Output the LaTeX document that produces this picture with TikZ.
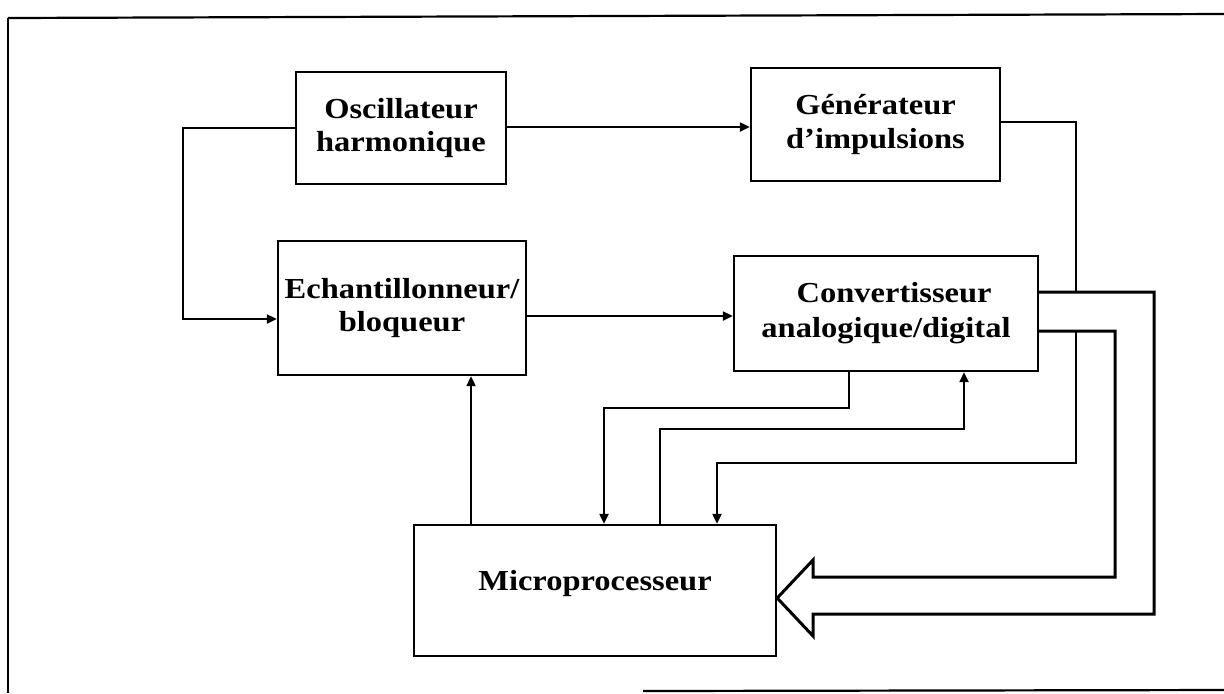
\documentclass[tikz,border=0pt]{standalone}
\usepackage{fontspec}
\setmainfont{Liberation Serif}[FakeStretch=1.12]
\usetikzlibrary{arrows.meta}
\begin{document}
\begin{tikzpicture}[x=0.5pt,y=-0.5pt,
  box/.style={draw,line width=1.2pt,inner sep=0pt,align=center,
    font=\fontsize{14.5}{16.75}\selectfont\bfseries},
  wire/.style={line width=1.1pt},
  arr/.style={wire,-{Triangle[length=5pt,width=4.5pt]}},
  frame/.style={line width=1.1pt},
  bus/.style={line width=1.5pt,line join=miter}]
\useasboundingbox (0,0) rectangle (1224,693);

% outer frame (partially visible)
\draw[frame] (8,18) -- (1224,14);
\draw[frame] (8,18) -- (8,693);
\draw[frame] (643,691) -- (1224,690);

% blocks
\node[box,minimum width=105pt,minimum height=56pt] (osc) at (401,128) {Oscillateur\\harmonique};
\node[box,minimum width=124pt,minimum height=67pt] (ech) at (402,308) {Echantillonneur/\\bloqueur};
\node[box,minimum width=124.5pt,minimum height=56.5pt] (gen) at (875.5,124.5) {Générateur\\d'impulsions};
\node[box,minimum width=152pt,minimum height=57.5pt] (conv) at (886,313.5) {\raisebox{3pt}{\begin{tabular}{@{}c@{}}\ \ Convertisseur\\[0.5pt]analogique/digital\end{tabular}}};
\node[box,minimum width=181pt,minimum height=65.5pt] (mp) at (595,590.5) {\raisebox{0pt}[0pt][0pt]{Microprocesseur}};

% oscillator -> sampler loop
\draw[arr] (osc.west) -- (183,128) |- (ech.west |- 0,319);
% oscillator -> pulse generator
\draw[arr] (osc.east |- 0,127) -- (gen.west |- 0,127);
% sampler -> converter
\draw[arr] (ech.east |- 0,316) -- (conv.west |- 0,316);
% pulse generator -> converter output line
\coordinate (jn) at (1076,292);
\draw[wire] (gen.east |- 0,122) -| (jn);
% wide bus arrow from converter to microprocessor
\draw[bus] (conv.east |- 0,331) -- (1115,331) -- (1115,577) -- (813,577) -- (813,560)
  -- (mp.east |- 0,598) -- (813,636) -- (813,614) -- (1154,614) -- (1154,292) -- (conv.east |- 0,292);
% converter -> microprocessor (via branch)
\draw[arr] (1076,331) -- (1076,463) -| (mp.north -| 717,0);
% converter bottom -> microprocessor
\draw[arr] (conv.south -| 849,0) |- (604,408) -- (mp.north -| 604,0);
% microprocessor -> converter
\draw[arr] (mp.north -| 660,0) |- (964,429) -- (conv.south -| 964,0);
% microprocessor -> sampler
\draw[arr] (mp.north -| 471,0) -- (ech.south -| 471,0);
\end{tikzpicture}
\end{document}
